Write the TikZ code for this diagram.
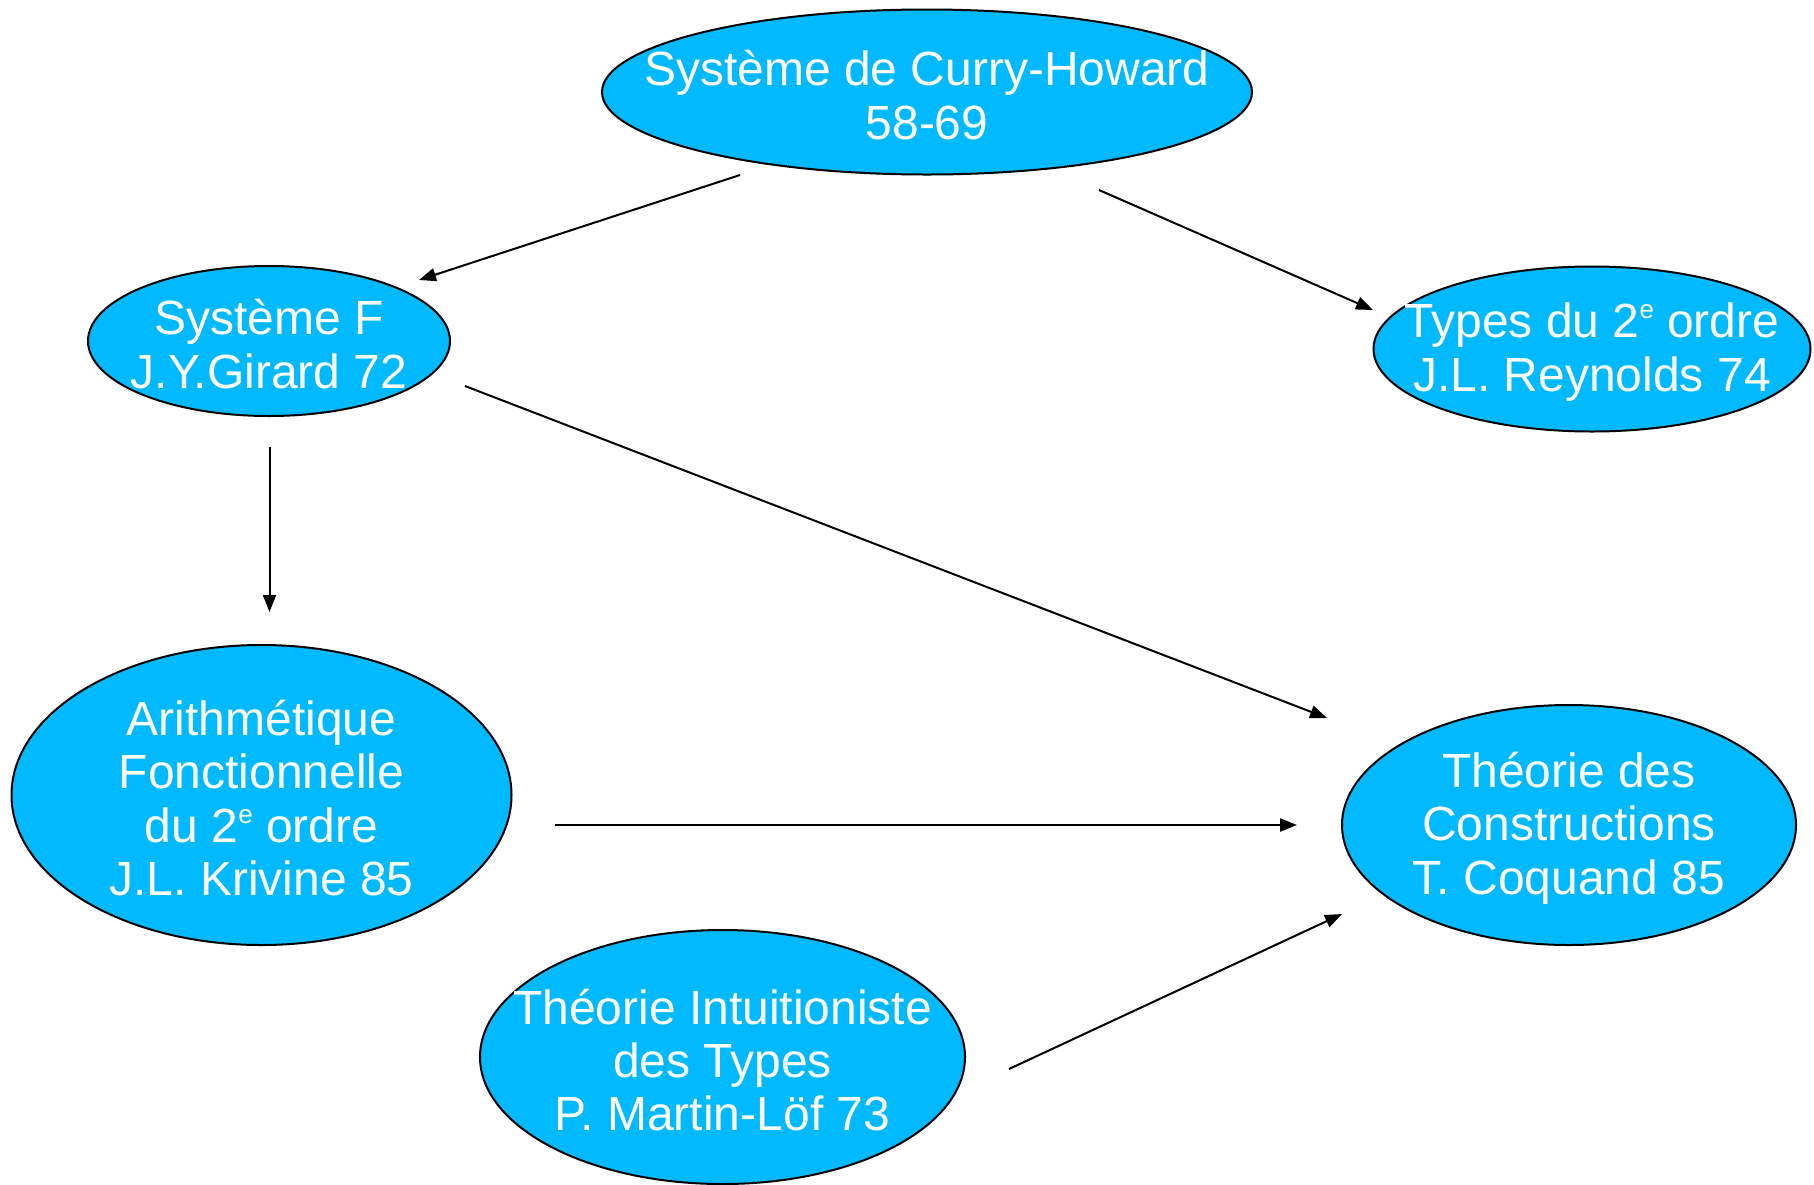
\documentclass[tikz,border=0pt]{standalone}
\usepackage{fontspec}
\setmainfont{Liberation Sans}
\usetikzlibrary{arrows.meta,shapes.geometric}
\definecolor{blobfill}{RGB}{0,185,255}
\newcommand\supe{\raisebox{0.75ex}{\fontsize{13pt}{13pt}\selectfont e}}
\tikzset{
  blob/.style={ellipse, draw=black, line width=1pt, fill=blobfill, inner sep=0pt},
  txt/.style={text=white, align=center, font=\fontsize{24pt}{26.7pt}\selectfont, inner sep=0pt, yshift=-1.5pt},
  conn/.style={line width=1pt, -{Triangle[length=8.5pt,width=6.5pt]}}
}
\begin{document}
\begin{tikzpicture}[x=0.5pt,y=-0.5pt]
\useasboundingbox (0,0) rectangle (1814,1184);
% ellipses (sizes in pt = half of pixels)
\node[blob, minimum width=325pt, minimum height=82.5pt] (ch) at (927,92) {};
\node[txt] at (ch) {Système de Curry-Howard\\58-69};
\node[blob, minimum width=181pt, minimum height=75pt] (sf) at (269,341) {};
\node[txt] at (sf) {Système F\\J.Y.Girard 72};
\node[blob, minimum width=218.5pt, minimum height=82.5pt] (ty) at (1592,349) {};
\node[txt] at (ty) {Types du 2\supe{} ordre\\J.L. Reynolds 74};
\node[blob, minimum width=250pt, minimum height=150pt] (ar) at (261.5,795) {};
\node[txt] at (ar) {Arithmétique\\Fonctionnelle\\du 2\supe{} ordre\\J.L. Krivine 85};
\node[blob, minimum width=227pt, minimum height=120pt] (tc) at (1569,825) {};
\node[txt] at (tc) {Théorie des\\Constructions\\T. Coquand 85};
\node[blob, minimum width=242.5pt, minimum height=127pt] (ti) at (722.5,1057) {};
\node[txt] at (ti) {Théorie Intuitioniste\\des Types\\P. Martin-Löf 73};
% connector end points
\coordinate (a1s) at (740,175);
\coordinate (a1e) at (419,280);
\coordinate (a2s) at (1099,190);
\coordinate (a2e) at (1373,310);
\coordinate (a3s) at (269.5,447);
\coordinate (a3e) at (269.5,612);
\coordinate (a4s) at (465,386);
\coordinate (a4e) at (1327,718);
\coordinate (a5s) at (555,825);
\coordinate (a5e) at (1297,825);
\coordinate (a6s) at (1009,1069);
\coordinate (a6e) at (1342,914);
\draw[conn] (a1s) -- (a1e);
\draw[conn] (a2s) -- (a2e);
\draw[conn] (a3s) -- (a3e);
\draw[conn] (a4s) -- (a4e);
\draw[conn] (a5s) -- (a5e);
\draw[conn] (a6s) -- (a6e);
\end{tikzpicture}
\end{document}
